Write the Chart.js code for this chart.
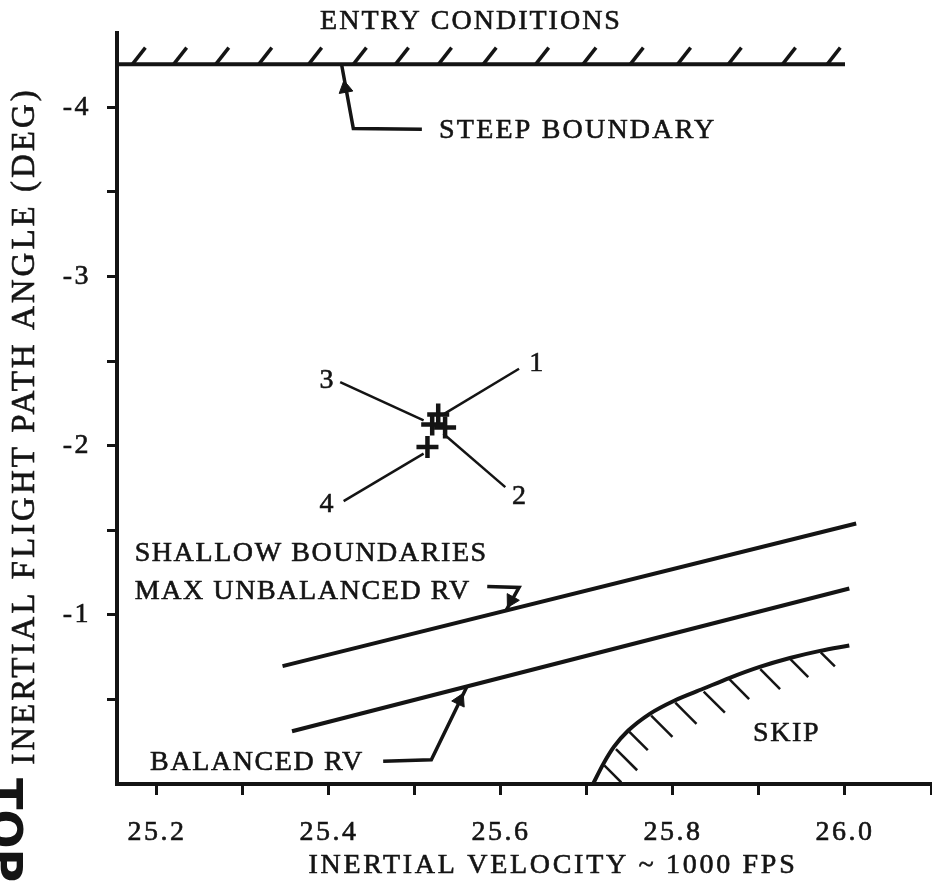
<!DOCTYPE html>
<html>
<head>
<meta charset="utf-8">
<script src="https://cdn.jsdelivr.net/npm/chart.js@4.4.1/dist/chart.umd.min.js"></script>
<style>
  html, body { margin: 0; padding: 0; background: #fff; }
  #wrap { width: 932px; height: 885px; }
</style>
</head>
<body>
<div id="wrap"><canvas id="chart" width="932" height="885"></canvas></div>
<script>
// x : inertial velocity (1000 fps), y : inertial flight path angle (deg)
const xTicks = [25.2, 25.3, 25.4, 25.5, 25.6, 25.7, 25.8, 25.9, 26.0, 26.1];
const xTickLabels = ['25.2', '', '25.4', '', '25.6', '', '25.8', '', '26.0', ''];
const yTicks = [-4, -3.5, -3, -2.5, -2, -1.5, -1, -0.5];
const yTickLabels = ['-4', '', '-3', '', '-2', '', '-1', ''];

const steepBoundary = [{ x: 25.1535, y: -4.255 }, { x: 26.0, y: -4.255 }];
const steepHatchX = [25.179, 25.227, 25.276, 25.326, 25.384, 25.436, 25.485, 25.535,
  25.587, 25.648, 25.703, 25.758, 25.813, 25.872, 25.935, 25.987];
const steepHatchY = -4.305;

const maxUnbalanced = [{ x: 25.346, y: -0.697 }, { x: 26.013, y: -1.540 }];
const balancedRV = [{ x: 25.357, y: -0.312 }, { x: 26.005, y: -1.156 }];

const skipBoundary = [
  { x: 25.707, y: 0 }, { x: 25.719, y: -0.119 }, { x: 25.731, y: -0.218 },
  { x: 25.748, y: -0.316 }, { x: 25.773, y: -0.415 }, { x: 25.802, y: -0.494 },
  { x: 25.835, y: -0.563 }, { x: 25.866, y: -0.628 }, { x: 25.900, y: -0.691 },
  { x: 25.936, y: -0.745 }, { x: 25.971, y: -0.787 }, { x: 26.005, y: -0.819 },
];
const skipHatch = [
  { x: 25.730, y: -0.060 }, { x: 25.746, y: -0.144 }, { x: 25.760, y: -0.254 },
  { x: 25.787, y: -0.341 }, { x: 25.815, y: -0.418 }, { x: 25.848, y: -0.484 },
  { x: 25.877, y: -0.561 }, { x: 25.913, y: -0.620 }, { x: 25.947, y: -0.684 },
  { x: 25.980, y: -0.737 },
];

// entry points 1..4
const entryPoints = [
  { x: 25.527, y: -2.185 }, { x: 25.535, y: -2.108 },
  { x: 25.520, y: -2.126 }, { x: 25.5145, y: -1.992 },
];
const pointLeaders = [
  [{ x: 25.531, y: -2.179 }, { x: 25.621, y: -2.455 }],
  [{ x: 25.533, y: -2.071 }, { x: 25.605, y: -1.755 }],
  [{ x: 25.413, y: -2.376 }, { x: 25.510, y: -2.150 }],
  [{ x: 25.417, y: -1.672 }, { x: 25.510, y: -1.953 }],
];

const steepLeader = [{ x: 25.4148, y: -4.249 }, { x: 25.4283, y: -3.875 }, { x: 25.508, y: -3.871 }];
const balancedLeader = [{ x: 25.463, y: -0.135 }, { x: 25.519, y: -0.143 }, { x: 25.560, y: -0.572 }];
const maxLeader = [{ x: 25.584, y: -1.168 }, { x: 25.621, y: -1.162 }, { x: 25.606, y: -1.026 }];
const arrowHeads = [{ x: 25.419, y: -4.113 }, { x: 25.552, y: -0.494 }, { x: 25.612, y: -1.085 }];

const notes = [
  { text: 'STEEP BOUNDARY', x: 25.528, y: -3.864, spacing: 2.2 },
  { text: 'SHALLOW BOUNDARIES', x: 25.174, y: -1.363, spacing: 1.6 },
  { text: 'MAX UNBALANCED RV', x: 25.174, y: -1.138, spacing: 1.6 },
  { text: 'BALANCED RV', x: 25.192, y: -0.127, spacing: 1.6 },
  { text: 'SKIP', x: 25.893, y: -0.299, spacing: 1.6 },
];
const pointNumbers = [
  { text: '1', x: 25.641, y: -2.484 },
  { text: '2', x: 25.621, y: -1.700 },
  { text: '3', x: 25.397, y: -2.386 },
  { text: '4', x: 25.397, y: -1.653 },
];

const ink = '#141414';
const serif = "'Liberation Serif', 'DejaVu Serif', serif";

function lineSet(data, width, extra) {
  return Object.assign({
    data, showLine: true, borderColor: ink, borderWidth: width,
    pointRadius: 0, tension: 0, fill: false, clip: false,
  }, extra || {});
}

const datasets = [
  lineSet(steepBoundary, 4),
  {
    data: steepHatchX.map((x) => ({ x, y: steepHatchY })),
    pointStyle: 'line', pointRadius: 10.5, pointRotation: -52,
    pointBorderWidth: 3.5, pointBorderColor: ink, clip: false,
  },
  lineSet(maxUnbalanced, 4),
  lineSet(balancedRV, 4),
  lineSet(skipBoundary, 4, { cubicInterpolationMode: 'monotone' }),
  {
    data: skipHatch,
    pointStyle: 'line', pointRadius: [12, 15, 13, 15, 15, 15, 14, 14, 12.5, 10], pointRotation: 45,
    pointBorderWidth: 2.5, pointBorderColor: ink, clip: false,
  },
  ...pointLeaders.map((seg) => lineSet(seg, 2.5)),
  lineSet(steepLeader, 3.5),
  lineSet(balancedLeader, 3.5),
  lineSet(maxLeader, 3.5),
  {
    data: arrowHeads,
    pointStyle: 'triangle', pointRadius: 8, pointRotation: [-10, 26, -151],
    pointBackgroundColor: ink, pointBorderColor: ink, pointBorderWidth: 1, clip: false,
  },
  {
    data: entryPoints,
    pointStyle: 'cross', pointRadius: 11, pointBorderWidth: 4.5,
    pointBorderColor: ink, clip: false,
  },
];

function inkText(ctx, text, x, y) {
  ctx.fillText(text, x, y);
  ctx.strokeText(text, x, y);
}

const textPlugin = {
  id: 'notes',
  beforeDraw(chart) {
    chart.ctx.letterSpacing = '2.5px';
  },
  afterDraw(chart) {
    const { ctx, scales: { x, y } } = chart;
    ctx.save();
    ctx.fillStyle = ink;
    ctx.strokeStyle = ink;
    ctx.lineWidth = 0.6;
    ctx.textBaseline = 'middle';
    ctx.textAlign = 'left';
    ctx.font = `28px ${serif}`;
    notes.forEach((n) => {
      ctx.letterSpacing = n.spacing + 'px';
      inkText(ctx, n.text, x.getPixelForValue(n.x), y.getPixelForValue(n.y));
    });
    ctx.letterSpacing = '0px';
    ctx.textAlign = 'center';
    pointNumbers.forEach((n) => {
      inkText(ctx, n.text, x.getPixelForValue(n.x), y.getPixelForValue(n.y));
    });

    // titles
    ctx.letterSpacing = '2px';
    inkText(ctx, 'ENTRY CONDITIONS', 471, 22);
    ctx.letterSpacing = '2.7px';
    inkText(ctx, 'INERTIAL VELOCITY ~ 1000 FPS', 553, 866);

    ctx.save();
    ctx.translate(25, 426);
    ctx.rotate(-Math.PI / 2);
    ctx.font = `33px ${serif}`;
    ctx.letterSpacing = '3px';
    inkText(ctx, 'INERTIAL FLIGHT PATH ANGLE (DEG)', 0, 0);
    ctx.restore();

    // page mark at the lower left edge
    ctx.save();
    ctx.translate(-11, 778);
    ctx.rotate(Math.PI / 2);
    ctx.font = "bold 46px 'DejaVu Sans', sans-serif";
    ctx.letterSpacing = '0px';
    ctx.textAlign = 'left';
    ctx.textBaseline = 'alphabetic';
    ctx.fillText('TOP', 0, 0);
    ctx.restore();

    ctx.restore();
  },
};

const tickFont = { family: serif, size: 28 };

new Chart(document.getElementById('chart'), {
  type: 'scatter',
  data: { datasets },
  options: {
    responsive: false,
    animation: false,
    events: [],
    layout: { autoPadding: false, padding: { top: 33, right: 1, left: 0, bottom: 0 } },
    plugins: { legend: { display: false }, tooltip: { enabled: false } },
    scales: {
      x: {
        type: 'linear',
        min: 25.1535,
        max: 26.1,
        afterBuildTicks: (axis) => { axis.ticks = xTicks.map((v) => ({ value: v })); },
        afterFit: (axis) => {
          axis.height = 101;
          axis.paddingLeft = 0;
          axis.paddingRight = 0;
        },
        ticks: {
          autoSkip: false, maxRotation: 0, padding: 21, color: ink, font: tickFont,
          textStrokeColor: ink, textStrokeWidth: 0.6,
          callback: (v, i) => xTickLabels[i],
        },
        grid: { drawOnChartArea: false, drawTicks: true, tickLength: 11, tickWidth: 3, tickColor: ink },
        border: { display: true, width: 4, color: ink },
      },
      y: {
        type: 'linear',
        min: -4.44,
        max: 0,
        reverse: true,
        afterBuildTicks: (axis) => { axis.ticks = yTicks.map((v) => ({ value: v })); },
        afterFit: (axis) => {
          axis.width = 117;
          axis.paddingTop = 0;
          axis.paddingBottom = 0;
        },
        ticks: {
          autoSkip: false, padding: 16, color: ink, font: tickFont,
          textStrokeColor: ink, textStrokeWidth: 0.6,
          callback: (v, i) => yTickLabels[i],
        },
        grid: { drawOnChartArea: false, drawTicks: true, tickLength: 10, tickWidth: 3, tickColor: ink },
        border: { display: true, width: 4, color: ink },
      },
    },
  },
  plugins: [textPlugin],
});
</script>
</body>
</html>
